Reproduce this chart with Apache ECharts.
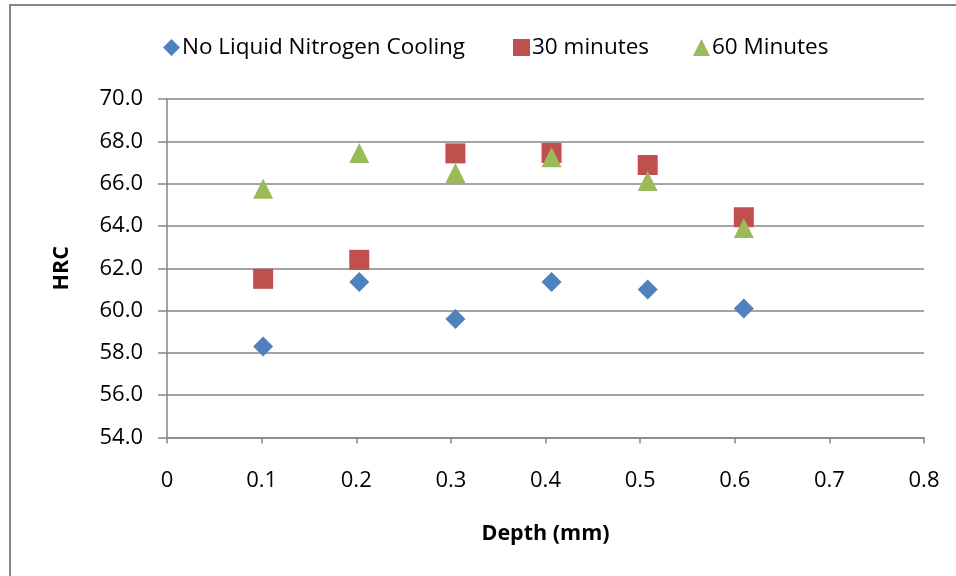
<!DOCTYPE html>
<html>
<head>
<meta charset="utf-8">
<script src="https://cdn.jsdelivr.net/npm/echarts@6/dist/echarts.min.js"></script>
<style>
  html, body { margin: 0; padding: 0; background: #ffffff; }
  #chart { width: 956px; height: 576px; }
</style>
</head>
<body>
<div id="chart"></div>
<script>
// Hardness (HRC) vs depth below surface for three cryogenic treatments
const depthMm = [0.1016, 0.2032, 0.3048, 0.4064, 0.508, 0.6096];
const noCooling = [58.3, 61.35, 59.6, 61.35, 61.0, 60.1];
const thirtyMinutes = [61.5, 62.4, 67.43, 67.45, 66.88, 64.41];
const sixtyMinutes = [65.76, 67.45, 66.5, 67.25, 66.12, 63.9];

const seriesNames = ['No Liquid Nitrogen Cooling', '30 minutes', '60 Minutes'];
const xTickLabels = ['0', '0.1', '0.2', '0.3', '0.4', '0.5', '0.6', '0.7', '0.8'];
const yTickLabels = ['54.0', '56.0', '58.0', '60.0', '62.0', '64.0', '66.0', '68.0', '70.0'];

const X_MIN = 0, X_MAX = 0.8, X_STEP = 0.1;
const Y_MIN = 54, Y_MAX = 70, Y_STEP = 2;

const FONT = '"Open Sans", "Noto Sans", sans-serif';
const colors = ['#4F81BD', '#C0504D', '#9BBB59'];
const symbols = ['diamond', 'rect', 'triangle'];
const values = [noCooling, thirtyMinutes, sixtyMinutes];

const chart = echarts.init(document.getElementById('chart'));

function legendAt(name, left, iconSize) {
  return {
    data: [name],
    left: left,
    top: 31,
    itemWidth: iconSize,
    itemHeight: iconSize,
    itemGap: 0,
    selectedMode: false,
    textStyle: { fontFamily: FONT, fontSize: 22.5, color: '#000000', padding: [0, 0, 0, -3] }
  };
}

chart.setOption({
  animation: false,
  backgroundColor: '#ffffff',
  graphic: [{
    type: 'rect',
    shape: { x: 10, y: 5, width: 1000, height: 1000 },
    style: { fill: 'none', stroke: '#868686', lineWidth: 2 },
    silent: true
  }],
  legend: [
    legendAt(seriesNames[0], 158, 17),
    legendAt(seriesNames[1], 508, 17),
    legendAt(seriesNames[2], 688, 17)
  ],
  grid: { left: 167, right: 32, top: 99, bottom: 138.5, containLabel: false },
  xAxis: {
    type: 'value',
    min: X_MIN, max: X_MAX, interval: X_STEP,
    name: 'Depth (mm)',
    nameLocation: 'middle',
    nameGap: 85,
    nameTextStyle: { fontFamily: FONT, fontSize: 21.5, fontWeight: 'bold', color: '#000000' },
    axisLine: { lineStyle: { color: '#868686', width: 1.5 } },
    axisTick: { show: true, length: 6, inside: false, lineStyle: { color: '#868686', width: 1.5 } },
    splitLine: { show: false },
    axisLabel: {
      margin: 32,
      fontFamily: FONT, fontSize: 22, color: '#000000',
      formatter: v => xTickLabels[Math.round((v - X_MIN) / X_STEP)]
    }
  },
  yAxis: {
    type: 'value',
    min: Y_MIN, max: Y_MAX, interval: Y_STEP,
    name: 'HRC',
    nameLocation: 'middle',
    nameRotate: 90,
    nameGap: 94,
    nameTextStyle: { fontFamily: FONT, fontSize: 21.5, fontWeight: 'bold', color: '#000000' },
    axisLine: { show: true, lineStyle: { color: '#868686', width: 1.5 } },
    axisTick: { show: true, length: 9, inside: false, lineStyle: { color: '#868686', width: 1.5 } },
    splitLine: { show: true, lineStyle: { color: '#868686', width: 1.5 } },
    axisLabel: {
      margin: 24,
      fontFamily: FONT, fontSize: 22, color: '#000000',
      formatter: v => yTickLabels[Math.round((v - Y_MIN) / Y_STEP)]
    }
  },
  series: seriesNames.map((name, i) => ({
    name: name,
    type: 'scatter',
    symbol: symbols[i],
    symbolSize: 20,
    itemStyle: { color: colors[i], opacity: 1 },
    z: 2 + i,
    data: depthMm.map((d, k) => [d, values[i][k]])
  }))
});
</script>
</body>
</html>
